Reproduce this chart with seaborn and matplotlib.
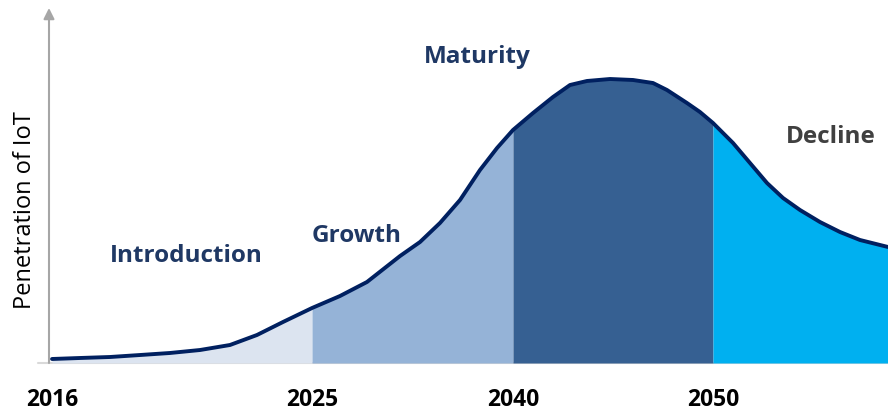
import numpy as np
import pandas as pd
import matplotlib
matplotlib.use("Agg")
import matplotlib.pyplot as plt
import seaborn as sns

# ---- data ----
progress = [0.36, 3.69, 7.27, 10.85, 14.42, 18.00, 21.57, 24.79, 27.89, 31.35,
            34.68, 37.90, 41.84, 44.22, 46.60, 48.99, 51.37, 53.40, 55.30, 57.69,
            60.07, 62.10, 64.12, 66.87, 69.61, 71.99, 73.66, 76.04, 77.59, 79.14,
            81.53, 83.55, 85.58, 87.49, 89.51, 91.89, 94.28, 96.66, 100.0]
penetration = [1.13, 1.41, 1.69, 2.25, 2.82, 3.66, 5.07, 7.89, 11.55, 15.49,
               18.87, 22.82, 30.14, 34.08, 39.44, 45.92, 54.37, 60.56, 65.63, 70.42,
               74.93, 78.31, 79.44, 80.00, 79.72, 78.87, 76.90, 73.24, 70.70, 67.61,
               61.97, 56.34, 50.70, 46.48, 43.10, 39.72, 36.90, 34.65, 32.68]
stage_names = ["Introduction", "Growth", "Maturity", "Decline"]
stage_bounds = [0.36, 31.35, 55.30, 79.14, 100.0]
year_labels = ["2016", "2025", "2040", "2050"]
year_ticks = [0.36, 31.35, 55.30, 79.14]

df = pd.DataFrame({"progress": progress, "penetration": penetration})

sns.set_theme(style="white")
plt.rcParams["font.family"] = ["Open Sans", "DejaVu Sans"]

stage_colors = ["#DCE4F0", "#95B3D7", "#366092", "#00B0F0"]
label_colors = ["#1F3864", "#1F3864", "#1F3864", "#404040"]
label_pos = [(16.4, 30.1), (36.7, 35.8), (51.1, 86.2), (93.2, 63.7)]

fig = plt.figure(figsize=(8.88, 4.12), dpi=100)
ax = fig.add_axes([49 / 888, 49 / 412, 839 / 888, 355 / 412])

x = np.array(progress)
y = np.array(penetration)
for i in range(4):
    a, b = stage_bounds[i], stage_bounds[i + 1]
    m = (x >= a - 1e-9) & (x <= b + 1e-9)
    ax.fill_between(x[m], 0, y[m], color=stage_colors[i], linewidth=0, zorder=1)

sns.lineplot(data=df, x="progress", y="penetration", ax=ax, color="#002060",
             linewidth=2.8, sort=False, zorder=3)
for ln in ax.lines:
    ln.set_solid_joinstyle("round")
    ln.set_solid_capstyle("round")

for name, (tx, ty), c in zip(stage_names, label_pos, label_colors):
    ax.text(tx, ty, name, ha="center", va="center", fontsize=17.5,
            fontweight="bold", color=c, zorder=4)

ax.set_xlim(0, 100)
ax.set_ylim(0, 100)
ax.set_xticks(year_ticks)
ax.set_xticklabels(year_labels, fontsize=16.5, fontweight="bold", color="black")
ax.tick_params(axis="x", length=0, pad=18)
ax.set_yticks([])
ax.set_xlabel("")
ax.set_ylabel("Penetration of IoT", fontsize=17, color="black")
ax.yaxis.set_label_coords(-0.014, 0.43)

for s in ["top", "right", "left", "bottom"]:
    ax.spines[s].set_visible(False)

# baseline and y-axis arrow
ax.axhline(0, xmin=-0.013, xmax=1, color="#D9D9D9", linewidth=1.5,
           clip_on=False, zorder=0)
ax.annotate("", xy=(0, 1.0), xytext=(0, 0), xycoords="axes fraction",
            arrowprops=dict(arrowstyle="-|>", color="#A6A6A6", lw=1.5,
                            mutation_scale=16, shrinkA=0, shrinkB=0),
            zorder=2)

fig.savefig("out.png", dpi=100)
